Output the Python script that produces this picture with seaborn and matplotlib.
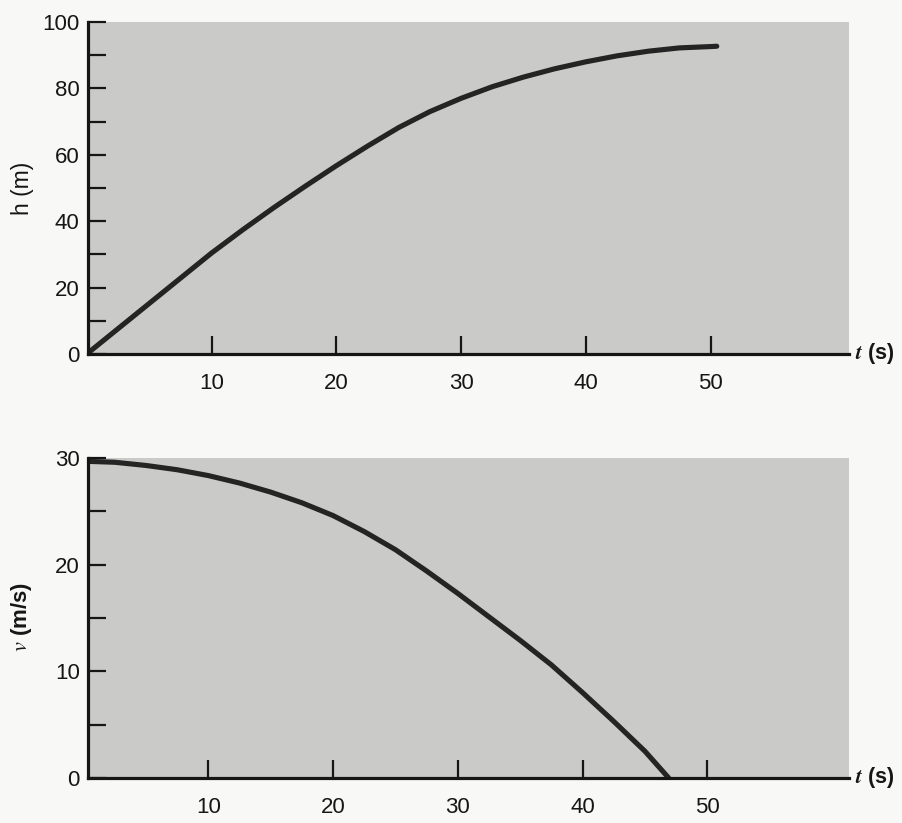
import matplotlib
matplotlib.use("Agg")
import matplotlib.pyplot as plt
import seaborn as sns
import pandas as pd
from matplotlib.ticker import MultipleLocator

# ---- data ----
t_h = [0, 2.5, 5, 7.5, 10, 12.5, 15, 17.5, 20, 22.5, 25, 27.5, 30, 32.5, 35,
       37.5, 40, 42.5, 45, 47.5, 50, 50.5]
h_vals = [0, 7.6, 15.2, 22.8, 30.4, 37.4, 44.1, 50.5, 56.7, 62.6, 68.2, 73.0,
          77.0, 80.5, 83.4, 85.9, 88.0, 89.8, 91.2, 92.2, 92.6, 92.7]

t_v = [0, 2.5, 5, 7.5, 10, 12.5, 15, 17.5, 20, 22.5, 25, 27.5, 30, 32.5, 35,
       37.5, 40, 42.5, 45, 46.9]
v_vals = [29.7, 29.6, 29.3, 28.9, 28.35, 27.65, 26.8, 25.8, 24.6, 23.1, 21.4,
          19.4, 17.3, 15.1, 12.9, 10.6, 8.0, 5.3, 2.5, 0.0]

x_ticks = [10, 20, 30, 40, 50]
h_major = [0, 20, 40, 60, 80, 100]
v_major = [0, 10, 20, 30]

df_h = pd.DataFrame({"t": t_h, "h": h_vals})
df_v = pd.DataFrame({"t": t_v, "v": v_vals})

sns.set_theme(style="ticks")
plt.rcParams["font.family"] = ["Liberation Sans", "DejaVu Sans"]
plt.rcParams["mathtext.fontset"] = "stix"

W, H = 902, 823
fig = plt.figure(figsize=(W / 100, H / 100), dpi=100, facecolor="#f8f8f6")

def px_axes(left, right, top, bottom):
    return fig.add_axes([left / W, 1 - bottom / H, (right - left) / W, (bottom - top) / H])

ax1 = px_axes(88, 849, 22, 354)
ax2 = px_axes(88, 849, 458, 778)

line_color = "#242424"
face = "#cacac8"
ink = "#161616"

sns.lineplot(data=df_h, x="t", y="h", ax=ax1, color=line_color, linewidth=3.7)
sns.lineplot(data=df_v, x="t", y="v", ax=ax2, color=line_color, linewidth=3.7)

for ax, ymax, major, minor, x0 in [(ax1, 100, h_major, 10, 0.1), (ax2, 30, v_major, 5, 0.35)]:
    ax.set_facecolor(face)
    ax.set_xlim(x0, 61 + x0)
    ax.set_ylim(0, ymax)
    ax.set_xticks(x_ticks)
    ax.set_yticks(major)
    ax.yaxis.set_minor_locator(MultipleLocator(minor))
    for s in ["top", "right"]:
        ax.spines[s].set_visible(False)
    for s in ["left", "bottom"]:
        ax.spines[s].set_linewidth(2.3)
        ax.spines[s].set_color(ink)
        ax.spines[s].set_zorder(5)
    ax.tick_params(axis="x", which="major", direction="in", length=13, width=1.6,
                   pad=14, labelsize=16, colors=ink)
    ax.tick_params(axis="y", which="both", direction="in", length=13, width=1.6,
                   pad=6, labelsize=16, colors=ink)
    ax.set_xlabel("")
    ax.set_ylabel("")
    ax.grid(False)
    ax.text(1.008, 0.0, r"$\mathbfit{t}$ (s)", transform=ax.transAxes, ha="left",
            va="center", fontsize=15.5, fontweight="bold", color=ink)

fig.text(22 / W, 1 - 188 / H, "h (m)", rotation=90, ha="center", va="center",
         fontsize=16.5, color=ink)
fig.text(22 / W, 1 - 617 / H, r"$\mathit{v}$ (m/s)", rotation=90, ha="center",
         va="center", fontsize=16, color=ink, fontweight="bold")

fig.savefig("out.png", dpi=100, facecolor=fig.get_facecolor())
